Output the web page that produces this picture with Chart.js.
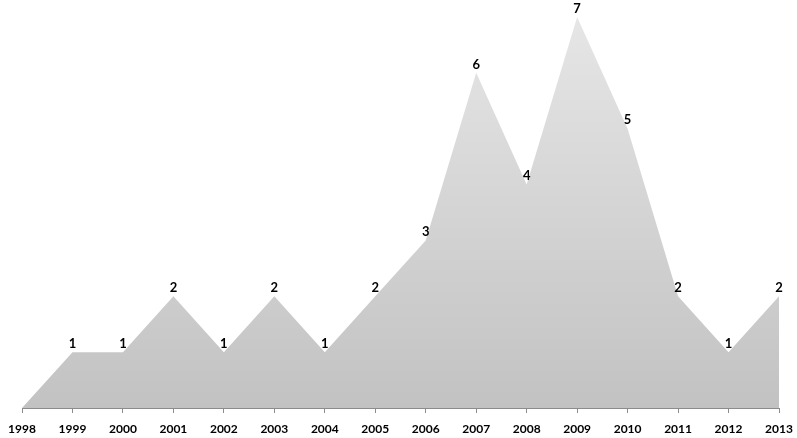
<!DOCTYPE html>
<html><head><meta charset="utf-8">
<script src="https://cdn.jsdelivr.net/npm/chart.js@4/dist/chart.umd.min.js"></script>
<style>html,body{margin:0;padding:0;background:#fff}#wrap{width:797px;height:438px}</style>
</head><body><div id="wrap"><canvas id="c"></canvas></div>
<script>
const years = ["1998","1999","2000","2001","2002","2003","2004","2005","2006","2007","2008","2009","2010","2011","2012","2013"];
const counts = [0,1,1,2,1,2,1,2,3,6,4,7,5,2,1,2];

const labelPlugin = {
  id: 'valLabels',
  afterDatasetsDraw(chart) {
    const ctx = chart.ctx;
    const meta = chart.getDatasetMeta(0);
    ctx.save();
    ctx.font = 'bold 13px Lato, "Open Sans", sans-serif';
    ctx.fillStyle = '#000';
    ctx.textAlign = 'center';
    ctx.textBaseline = 'bottom';
    meta.data.forEach((pt, i) => {
      const v = counts[i];
      if (!v) return;
      ctx.fillText(String(v), pt.x, pt.y - 2);
    });
    ctx.restore();
  }
};

const ctx = document.getElementById('c').getContext('2d');
new Chart(ctx, {
  type: 'line',
  data: {
    labels: years,
    datasets: [{
      data: counts,
      fill: 'origin',
      borderWidth: 0,
      borderColor: 'rgba(0,0,0,0)',
      pointRadius: 0,
      tension: 0,
      backgroundColor: (c) => {
        const a = c.chart.chartArea;
        if (!a) return '#ccc';
        const g = c.chart.ctx.createLinearGradient(0, a.top, 0, a.bottom);
        g.addColorStop(0, '#e6e6e6');
        g.addColorStop(1, '#c2c2c2');
        return g;
      }
    }]
  },
  options: {
    responsive: true,
    maintainAspectRatio: false,
    animation: false,
    layout: { padding: { top: 17, left: 22, right: 18, bottom: 0 } },
    plugins: { legend: { display: false }, tooltip: { enabled: false } },
    scales: {
      x: {
        offset: false,
        afterFit(scale) { scale.height = 30; scale.paddingLeft = 0; scale.paddingRight = 0; },
        border: { display: true, color: '#8c8c8c', width: 1 },
        grid: { display: true, drawOnChartArea: false, drawTicks: true, tickLength: 5, color: '#8c8c8c' },
        ticks: { color: '#000', font: { family: 'Lato, "Open Sans", sans-serif', weight: 'bold', size: 12 }, padding: 9, maxRotation: 0, autoSkip: false }
      },
      y: { display: false, min: 0, max: 7 }
    }
  },
  plugins: [labelPlugin]
});
</script></body></html>
